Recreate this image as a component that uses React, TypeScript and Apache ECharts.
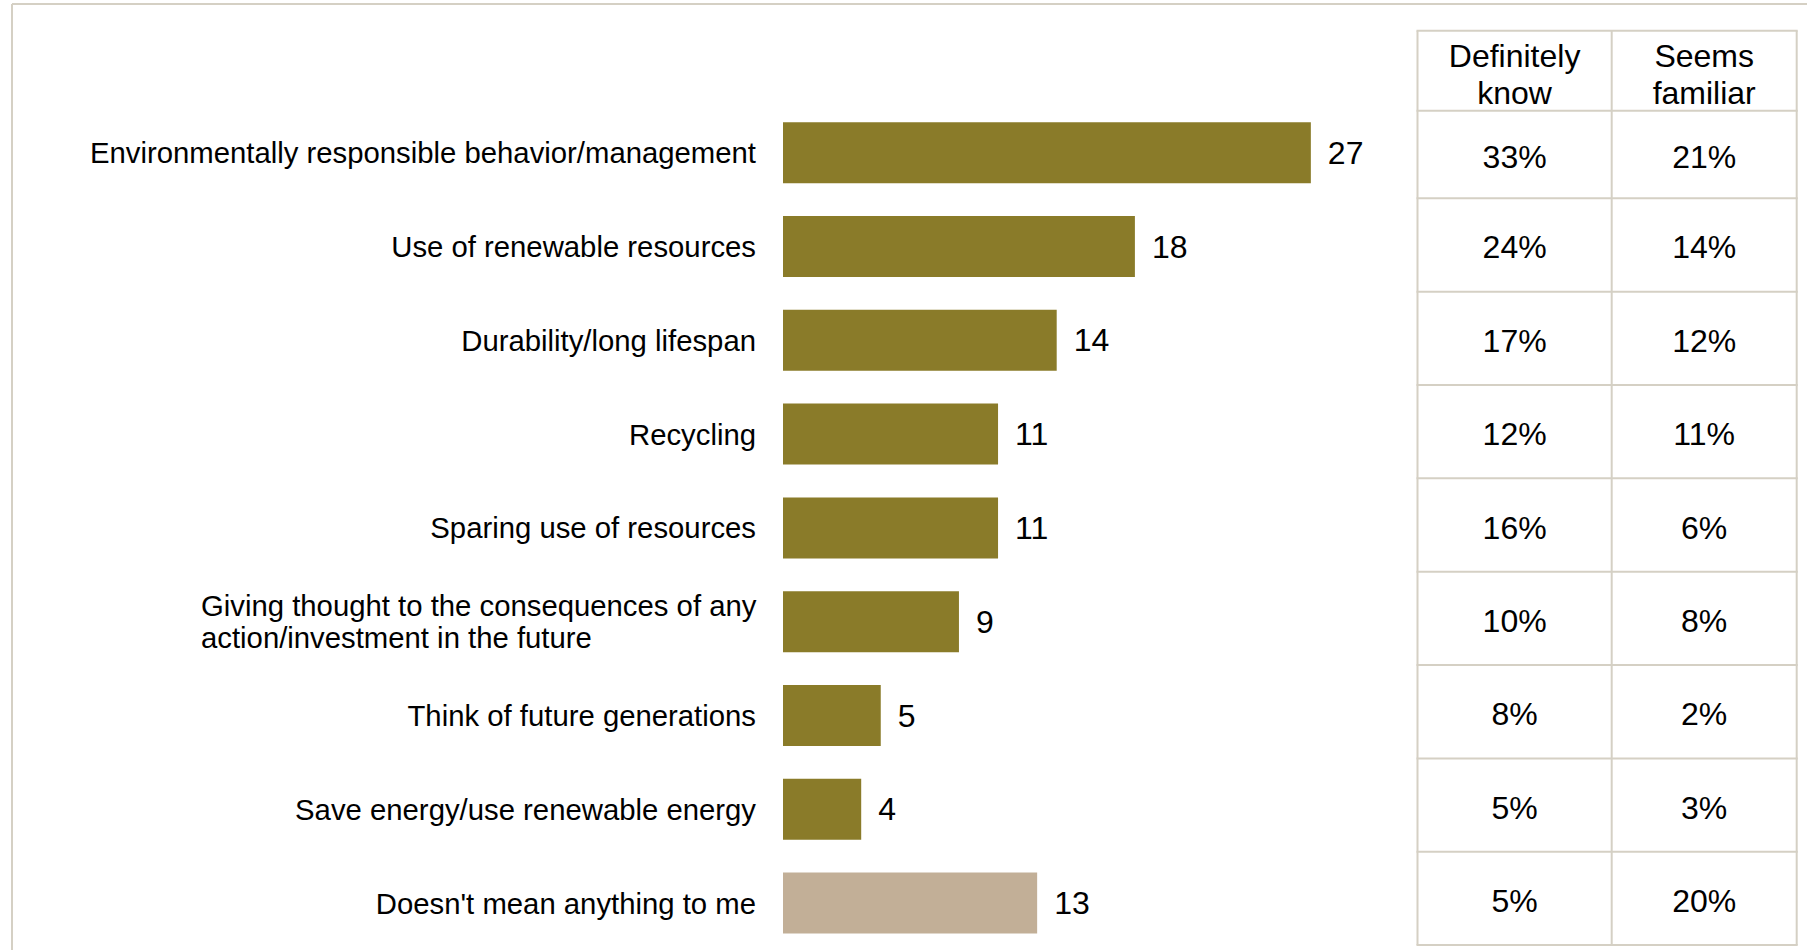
import React, { useEffect, useRef } from "react";
import * as echarts from "echarts";

const categories = [
  "Environmentally responsible behavior/management",
  "Use of renewable resources",
  "Durability/long lifespan",
  "Recycling",
  "Sparing use of resources",
  "Giving thought to the consequences of any\naction/investment in the future",
  "Think of future generations",
  "Save energy/use renewable energy",
  "Doesn't mean anything to me",
];
const mentions = [27, 18, 14, 11, 11, 9, 5, 4, 13];
const neutralCategory = "Doesn't mean anything to me";

const tableHeaders = ["Definitely\nknow", "Seems\nfamiliar"];
const definitelyKnow = ["33%", "24%", "17%", "12%", "16%", "10%", "8%", "5%", "5%"];
const seemsFamiliar = ["21%", "14%", "12%", "11%", "6%", "8%", "2%", "3%", "20%"];

const FONT = "'Liberation Sans', Arial, Helvetica, sans-serif";
const BAR_COLOR = "#8a7b29";
const NEUTRAL_COLOR = "#c2af97";
const BORDER = "#d5d0c4";

function buildTable() {
  const colX = [1417.5, 1611.7, 1796.7];
  const headerTop = 30.7;
  const headerBottom = 110.7;
  const firstRowBottom = 198.3;
  const rowH = 93.35;
  const rowBounds = [headerBottom, firstRowBottom];
  for (let i = 1; i < definitelyKnow.length; i++) rowBounds.push(firstRowBottom + i * rowH);
  const hLines = [headerTop, ...rowBounds];
  const bottom = rowBounds[rowBounds.length - 1];
  const children: any[] = [];
  hLines.forEach((y) => {
    children.push({
      type: "line",
      shape: { x1: colX[0] - 1, y1: y, x2: colX[2] + 1, y2: y },
      style: { stroke: BORDER, lineWidth: 2 },
    });
  });
  colX.forEach((x) => {
    children.push({
      type: "line",
      shape: { x1: x, y1: headerTop, x2: x, y2: bottom },
      style: { stroke: BORDER, lineWidth: 2 },
    });
  });
  const colCenters = [(colX[0] + colX[1]) / 2, (colX[1] + colX[2]) / 2];
  tableHeaders.forEach((h, c) => {
    children.push({
      type: "text",
      x: colCenters[c],
      y: 74,
      style: {
        text: h,
        fill: "#000",
        fontSize: 32,
        fontFamily: FONT,
        lineHeight: 37,
        align: "center",
        verticalAlign: "middle",
      },
    });
  });
  const cols = [definitelyKnow, seemsFamiliar];
  cols.forEach((col, c) => {
    col.forEach((v, r) => {
      const yc = (rowBounds[r] + rowBounds[r + 1]) / 2 + 2.5;
      children.push({
        type: "text",
        x: colCenters[c],
        y: yc,
        style: {
          text: v,
          fill: "#000",
          fontSize: 32,
          fontFamily: FONT,
          align: "center",
          verticalAlign: "middle",
        },
      });
    });
  });
  return children;
}

export default function App() {
  const ref = useRef<HTMLDivElement>(null);
  useEffect(() => {
    if (!ref.current) return;
    const chart = echarts.init(ref.current, undefined, { renderer: "svg" });
    const option: any = {
      animation: false,
      backgroundColor: "#ffffff",
      grid: { left: 783, top: 105.8, width: 30 * 19.55, height: 845.4, containLabel: false },
      xAxis: { type: "value", min: 0, max: 30, show: false },
      yAxis: {
        type: "category",
        data: categories,
        inverse: true,
        axisLine: { show: false },
        axisTick: { show: false },
        splitLine: { show: false },
        axisLabel: {
          fontSize: 29.3,
          color: "#000",
          fontFamily: FONT,
          margin: 27,
          formatter: (v: string) =>
            v.indexOf("\n") >= 0
              ? v
                  .split("\n")
                  .map((l) => "{w|" + l + "}")
                  .join("\n")
              : v,
          rich: {
            w: {
              width: 555,
              align: "left",
              fontSize: 29.3,
              lineHeight: 32,
              color: "#000",
              fontFamily: FONT,
            },
          },
        },
      },
      series: [
        {
          type: "bar",
          barWidth: 61,
          data: mentions.map((v, i) => ({
            value: v,
            itemStyle: { color: categories[i] === neutralCategory ? NEUTRAL_COLOR : BAR_COLOR },
          })),
          label: {
            show: true,
            position: "right",
            distance: 17,
            fontSize: 32,
            color: "#000",
            fontFamily: FONT,
          },
        },
      ],
      graphic: [
        {
          type: "line",
          shape: { x1: 12, y1: 4, x2: 1807, y2: 4 },
          style: { stroke: BORDER, lineWidth: 2 },
        },
        {
          type: "line",
          shape: { x1: 12, y1: 4, x2: 12, y2: 950 },
          style: { stroke: BORDER, lineWidth: 2 },
        },
        ...buildTable(),
      ],
    };
    chart.setOption(option);
    return () => chart.dispose();
  }, []);
  return (
    <div
      ref={ref}
      style={{ position: "fixed", left: 0, top: 0, width: 1807, height: 950, background: "#fff" }}
    />
  );
}
